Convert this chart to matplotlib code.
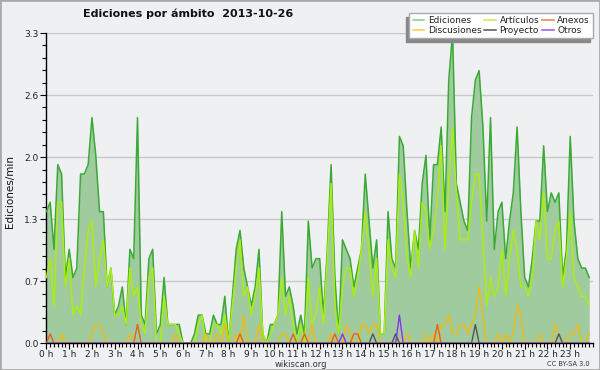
import numpy as np
import matplotlib
matplotlib.use('Agg')
import matplotlib.pyplot as plt
from matplotlib.lines import Line2D
from matplotlib.patches import Rectangle

# ---------------- data (10-minute steps, edits per minute) ----------------
hour_labels = [f"{h} h" for h in range(24)]
y_tick_values = [0.0, 0.66, 1.32, 1.98, 2.64, 3.3]
y_tick_labels = ["0.0", "0.7", "1.3", "2.0", "2.6", "3.3"]

ediciones = [
    1.4, 1.5, 1.0, 1.9, 1.8, 0.7, 1.0, 0.7, 0.8, 1.8, 1.8, 1.9, 2.4, 2.0, 1.4, 1.4, 0.6, 0.8, 0.3, 0.4, 0.6, 0.2, 1.0, 0.9,
    2.4, 0.3, 0.2, 0.9, 1.0, 0.1, 0.2, 0.7, 0.2, 0.2, 0.2, 0.2, 0.0, 0.0, 0.0, 0.1, 0.3, 0.3, 0.1, 0.1, 0.3, 0.2, 0.2, 0.5,
    0.0, 0.5, 1.0, 1.2, 0.8, 0.6, 0.4, 0.6, 1.0, 0.1, 0.0, 0.2, 0.2, 0.3, 1.4, 0.5, 0.6, 0.4, 0.1, 0.3, 0.1, 1.3, 0.8, 0.9,
    0.9, 0.3, 1.0, 1.9, 0.7, 0.1, 1.1, 1.0, 0.9, 0.6, 0.8, 1.0, 1.8, 1.3, 0.8, 1.1, 0.1, 0.1, 1.4, 0.9, 0.8, 2.2, 2.1, 1.4,
    0.8, 1.2, 1.0, 1.7, 2.0, 1.1, 1.9, 1.9, 2.3, 1.4, 2.8, 3.3, 1.7, 1.5, 1.3, 1.2, 2.4, 2.8, 2.9, 2.3, 1.3, 2.4, 1.0, 1.4,
    1.5, 0.9, 1.3, 1.6, 2.3, 1.4, 0.7, 0.6, 0.9, 1.3, 1.3, 2.1, 1.4, 1.6, 1.5, 1.6, 0.7, 1.0, 2.2, 1.3, 0.9, 0.8, 0.8, 0.7,
]
articulos = [
    0.7, 0.9, 0.4, 1.5, 1.5, 0.6, 0.9, 0.3, 0.4, 0.3, 0.8, 1.2, 1.3, 0.6, 0.9, 1.1, 0.6, 0.8, 0.3, 0.3, 0.4, 0.2, 0.8, 0.5,
    0.6, 0.2, 0.1, 0.7, 0.8, 0.0, 0.0, 0.5, 0.2, 0.2, 0.2, 0.1, 0.0, 0.0, 0.0, 0.0, 0.2, 0.3, 0.0, 0.0, 0.2, 0.2, 0.1, 0.3,
    0.0, 0.4, 0.8, 1.1, 0.5, 0.6, 0.3, 0.5, 0.8, 0.1, 0.0, 0.1, 0.2, 0.3, 0.7, 0.3, 0.5, 0.2, 0.0, 0.2, 0.0, 0.7, 0.2, 0.3,
    0.6, 0.2, 0.9, 1.7, 0.4, 0.1, 0.6, 0.8, 0.8, 0.5, 0.7, 1.0, 1.4, 1.0, 0.5, 0.9, 0.1, 0.1, 1.1, 0.8, 0.7, 1.8, 1.5, 0.9,
    0.7, 1.2, 0.8, 1.5, 1.4, 1.0, 1.2, 1.5, 2.1, 1.0, 1.7, 2.3, 1.6, 1.1, 1.1, 1.1, 1.5, 1.8, 1.8, 1.1, 0.4, 0.7, 0.5, 0.6,
    1.0, 0.5, 0.9, 1.2, 1.0, 0.6, 0.6, 0.5, 0.7, 1.3, 1.1, 1.6, 0.9, 0.9, 1.2, 1.3, 0.6, 0.9, 1.4, 0.7, 0.6, 0.5, 0.5, 0.4,
]
discusiones = [
    0, 0, 0, 0, 0.1, 0, 0, 0, 0, 0, 0, 0, 0.1, 0.2, 0.2, 0.1, 0, 0, 0, 0, 0, 0, 0.1, 0,
    0, 0, 0, 0, 0, 0, 0, 0, 0, 0, 0.1, 0, 0, 0, 0, 0, 0, 0, 0.1, 0, 0, 0.1, 0, 0.2,
    0, 0, 0.1, 0, 0.3, 0, 0, 0, 0.2, 0, 0, 0, 0, 0, 0.1, 0.1, 0, 0, 0, 0, 0, 0, 0.2, 0,
    0, 0, 0, 0.1, 0, 0, 0, 0.2, 0.1, 0, 0, 0.2, 0.2, 0.1, 0.2, 0.2, 0, 0, 0, 0, 0, 0, 0, 0.1,
    0, 0, 0, 0, 0.1, 0, 0.1, 0, 0.2, 0.2, 0.3, 0.1, 0.1, 0.2, 0.2, 0.1, 0.2, 0.3, 0.6, 0.3, 0, 0, 0, 0.1,
    0, 0.1, 0, 0.1, 0.4, 0.3, 0, 0, 0, 0, 0.1, 0, 0, 0, 0.2, 0.1, 0, 0, 0.1, 0.1, 0.2, 0, 0, 0.1,
]
anexos = [
    0, 0.1, 0, 0, 0, 0, 0, 0, 0, 0, 0, 0, 0, 0, 0, 0, 0, 0, 0, 0, 0, 0, 0, 0,
    0.2, 0, 0, 0, 0, 0, 0, 0, 0, 0, 0, 0, 0, 0, 0, 0, 0, 0, 0, 0, 0, 0, 0, 0,
    0, 0, 0, 0.1, 0, 0, 0, 0, 0, 0, 0, 0, 0, 0, 0, 0, 0, 0.1, 0, 0, 0.1, 0, 0, 0,
    0, 0, 0, 0, 0.1, 0, 0, 0, 0, 0.1, 0.1, 0, 0, 0, 0, 0, 0, 0, 0, 0, 0, 0, 0, 0,
    0, 0, 0, 0, 0, 0, 0, 0.2, 0, 0, 0, 0, 0, 0, 0, 0, 0, 0, 0, 0, 0, 0, 0, 0,
    0, 0, 0, 0, 0, 0, 0, 0, 0, 0, 0, 0, 0, 0, 0, 0, 0, 0, 0, 0, 0, 0, 0, 0,
]
proyecto = [
    0, 0, 0, 0, 0, 0, 0, 0, 0, 0, 0, 0, 0, 0, 0, 0, 0, 0, 0, 0, 0, 0, 0, 0,
    0, 0, 0, 0, 0, 0, 0, 0, 0, 0, 0, 0, 0, 0, 0, 0, 0, 0, 0, 0, 0, 0, 0, 0,
    0, 0, 0, 0, 0, 0, 0, 0, 0, 0, 0, 0, 0, 0, 0, 0, 0, 0, 0, 0, 0, 0, 0, 0,
    0, 0, 0, 0, 0, 0, 0, 0, 0, 0, 0, 0, 0, 0, 0.1, 0, 0, 0, 0, 0, 0.1, 0, 0, 0,
    0, 0, 0, 0, 0, 0, 0, 0, 0, 0, 0, 0, 0, 0, 0, 0, 0, 0.2, 0, 0, 0, 0, 0, 0,
    0, 0, 0, 0, 0, 0, 0, 0, 0, 0, 0, 0, 0, 0, 0, 0.1, 0, 0, 0, 0, 0, 0, 0, 0,
]
otros = [
    0, 0, 0, 0, 0, 0, 0, 0, 0, 0, 0, 0, 0, 0, 0, 0, 0, 0, 0, 0, 0, 0, 0, 0,
    0, 0, 0, 0, 0, 0, 0, 0, 0, 0, 0, 0, 0, 0, 0, 0, 0, 0, 0, 0, 0, 0, 0, 0,
    0, 0, 0, 0, 0, 0, 0, 0, 0, 0, 0, 0, 0, 0, 0, 0, 0, 0, 0, 0, 0, 0, 0, 0,
    0, 0, 0, 0, 0, 0, 0.1, 0, 0, 0, 0, 0, 0, 0, 0, 0, 0, 0, 0, 0, 0, 0.3, 0, 0,
    0, 0, 0, 0, 0, 0, 0, 0, 0, 0, 0, 0, 0, 0, 0, 0, 0, 0, 0, 0, 0, 0, 0, 0,
    0, 0, 0, 0, 0, 0, 0, 0, 0, 0, 0, 0, 0, 0, 0, 0, 0, 0, 0, 0, 0, 0, 0, 0,
]

# ---------------- figure ----------------
BG = '#eef0f2'
W, H = 600, 370
fig = plt.figure(figsize=(6, 3.7), dpi=100, facecolor=BG)
ax = fig.add_axes([46.4 / W, 26.7 / H, (593 - 46.4) / W, (343.3 - 33) / H])
ax.set_facecolor(BG)

x = np.arange(len(ediciones)) / 6.0

c_edic = '#3aaa35'
c_art = '#aaee11'
c_disc = '#f2bb10'
c_anex = '#e8601c'
c_proy = '#555555'
c_otros = '#8833ee'

ax.fill_between(x, 0, ediciones, color='#9fcb9f', lw=0, zorder=2)
ax.plot(x, ediciones, color=c_edic, lw=1.1, zorder=3)
ax.plot(x, articulos, color=c_art, lw=1.1, zorder=4)
ax.plot(x, discusiones, color=c_disc, lw=1.0, zorder=5)
ax.plot(x, anexos, color=c_anex, lw=1.0, zorder=5)
ax.plot(x, proyecto, color=c_proy, lw=1.0, zorder=5)
ax.plot(x, otros, color=c_otros, lw=1.0, zorder=5)

ax.set_xlim(0, 24)
ax.set_ylim(0, 3.3)
ax.set_xticks(range(24))
ax.set_xticklabels(hour_labels)
ax.set_xticks(np.arange(0, 24.01, 1 / 6.0), minor=True)
ax.set_yticks(y_tick_values)
ax.set_yticklabels(y_tick_labels)
ax.set_yticks(np.arange(0, 3.31, 0.132), minor=True)

ax.tick_params(axis='both', which='major', direction='out', length=4, width=0.8,
               labelsize=6.5, pad=1.5, colors='black', labelcolor='#222222')
ax.tick_params(axis='both', which='minor', direction='out', length=3, width=0.8)
ax.tick_params(axis='x', labelsize=6.5, pad=1)

for s in ['top', 'right']:
    ax.spines[s].set_visible(False)
for s in ['left', 'bottom']:
    ax.spines[s].set_color('black')
    ax.spines[s].set_linewidth(1.0)

ax.yaxis.grid(True, color='#c8c8c8', lw=1.0, zorder=0)
ax.set_axisbelow(True)

# texts
fig.text(188 / W, 1 - 14 / H, 'Ediciones por ámbito  2013-10-26', ha='center', va='center',
         fontsize=8, fontweight='bold', color='#111111')
fig.text(10 / W, 1 - 192 / H, 'Ediciones/min', rotation=90, ha='center', va='center',
         fontsize=7.5, color='#111111')
fig.text(301 / W, 1 - 364.5 / H, 'wikiscan.org', ha='center', va='center', fontsize=6, color='#333333')
fig.text(590 / W, 1 - 364 / H, 'CC BY-SA 3.0', ha='right', va='center', fontsize=4.8, color='#333333')

# legend
handles = [
    Line2D([], [], color='#88cc88', lw=1.1),
    Line2D([], [], color='#f8cc44', lw=1.1),
    Line2D([], [], color='#c8ee55', lw=1.1),
    Line2D([], [], color='#555555', lw=1.1),
    Line2D([], [], color='#f08050', lw=1.1),
    Line2D([], [], color='#9955ee', lw=1.1),
]
labels = ['Ediciones', 'Discusiones', 'Artículos', 'Proyecto', 'Anexos', 'Otros']
leg = fig.legend(handles, labels, ncol=3, loc='upper right', bbox_to_anchor=(593 / W, 1 - 13 / H),
                 fontsize=6.5, frameon=True, fancybox=False, edgecolor='#aaaaaa', facecolor='white',
                 framealpha=1, borderpad=0.35, labelspacing=0.1, handlelength=1.3,
                 handletextpad=0.4, columnspacing=0.3, borderaxespad=0,
                 shadow={'ox': -2.5, 'oy': -3, 'facecolor': '#888888', 'edgecolor': '#888888', 'alpha': 1})
for t in leg.get_texts():
    t.set_color('#222222')

# figure border
fig.patches.append(Rectangle((0, 0), 1, 1, transform=fig.transFigure, fill=False,
                             edgecolor='#aaaaaa', lw=2, zorder=10))

fig.savefig('out.png', dpi=100, facecolor=BG)
